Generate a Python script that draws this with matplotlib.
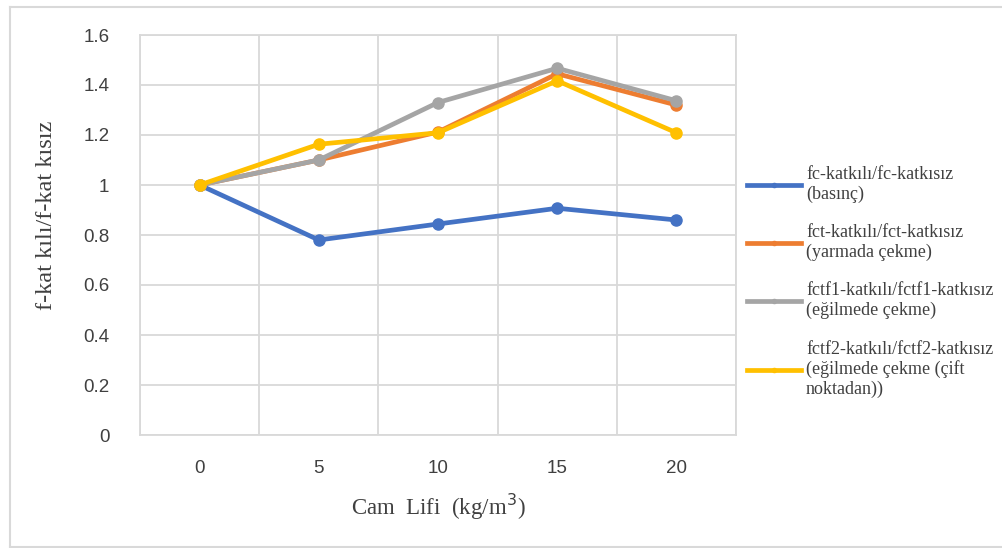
import numpy as np
import matplotlib.pyplot as plt
from matplotlib.lines import Line2D

# Cam lifi miktarı (kg/m3) ve oranlar
cam_lifi = ['0', '5', '10', '15', '20']
fc_oran = [1.0, 0.78, 0.844, 0.907, 0.86]
fct_oran = [1.0, 1.10, 1.212, 1.445, 1.32]
fctf1_oran = [1.0, 1.10, 1.33, 1.467, 1.337]
fctf2_oran = [1.0, 1.163, 1.209, 1.417, 1.209]

etiketler = ['fc-katkılı/fc-katkısız\n(basınç)',
             'fct-katkılı/fct-katkısız\n(yarmada çekme)',
             'fctf1-katkılı/fctf1-katkısız\n(eğilmede çekme)',
             'fctf2-katkılı/fctf2-katkısız\n(eğilmede çekme (çift\nnoktadan))']
renkler = ['#4472C4', '#ED7D31', '#A5A5A5', '#FFC000']

W, H = 1003, 548
fig = plt.figure(figsize=(W / 100, H / 100), dpi=100)
ax = fig.add_axes([140 / W, 1 - 435 / H, 596 / W, 400 / H])

x = np.arange(len(cam_lifi))
seriler = [fc_oran, fct_oran, fctf1_oran, fctf2_oran]
for y, c in zip(seriler, renkler):
    ax.plot(x, y, color=c, lw=3.4, marker='o', ms=8, solid_capstyle='round')

# kategori ekseni: ızgara çizgileri kategoriler arasında
ax.set_xlim(-0.5, len(cam_lifi) - 0.5)
ax.set_xticks(x)
ax.set_xticklabels(cam_lifi)
ax.set_xticks(np.arange(-0.5, len(cam_lifi)), minor=True)
ax.set_ylim(0, 1.6)
ax.set_yticks(np.arange(0, 1.61, 0.2))
ax.set_yticklabels(['0', '0.2', '0.4', '0.6', '0.8', '1', '1.2', '1.4', '1.6'])

ax.grid(which='minor', axis='x', color='#D9D9D9', lw=1.3)
ax.grid(which='major', axis='y', color='#D9D9D9', lw=1.3)
ax.set_axisbelow(True)
for s in ax.spines.values():
    s.set_color('#D9D9D9')
    s.set_linewidth(1.3)
ax.tick_params(which='both', length=0)
ax.tick_params(axis='x', pad=18)
ax.tick_params(axis='y', pad=22)
for lab in ax.get_xticklabels() + ax.get_yticklabels():
    lab.set_fontfamily('Liberation Sans')
    lab.set_fontsize(13.5)
    lab.set_color('#404040')

ax.set_xlabel('Cam  Lifi  (kg/m$^3$)', fontfamily='Liberation Serif',
              fontsize=16.5, color='#404040', labelpad=11)
ax.set_ylabel('f-kat kılı/f-kat kısız', fontfamily='Liberation Serif',
              fontsize=17.5, color='#404040')
ax.yaxis.set_label_coords(-0.14, 0.55)

handles = [Line2D([], [], color=c, lw=3.4, marker='o', ms=3) for c in renkler]
leg = fig.legend(handles, etiketler, loc='upper left',
                 bbox_to_anchor=(731 / W, 1 - 150 / H), frameon=False,
                 prop={'family': 'Liberation Serif', 'size': 13},
                 handlelength=3.0, handletextpad=0.25, labelspacing=1.17)
for t in leg.get_texts():
    t.set_color('#404040')

# grafik çerçevesi
kw = dict(color='#D9D9D9', lw=1.5, transform=fig.transFigure)
fig.add_artist(Line2D([10 / W, 10 / W], [1 - 7 / H, 1 - 547 / H], **kw))
fig.add_artist(Line2D([10 / W, 1], [1 - 7 / H, 1 - 7 / H], **kw))
fig.add_artist(Line2D([10 / W, 1], [1 - 547 / H, 1 - 547 / H], **kw))

fig.savefig('out.png', dpi=100)
